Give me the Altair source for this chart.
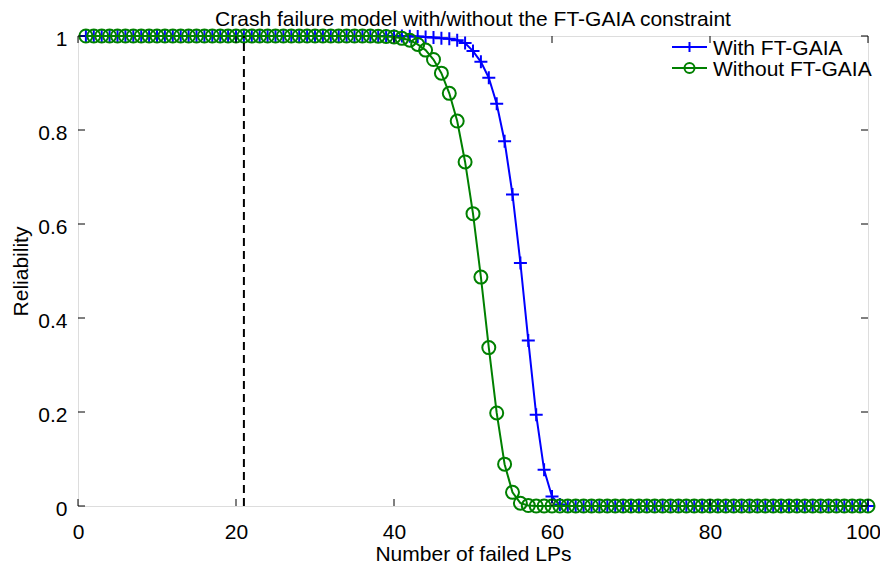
import altair as alt
import pandas as pd

# ---- data ----
failed_lps = list(range(1, 101))

with_ft_gaia = [
    1.0, 1.0, 1.0, 1.0, 1.0, 1.0, 1.0, 1.0, 1.0, 1.0,
    1.0, 1.0, 1.0, 1.0, 1.0, 1.0, 1.0, 1.0, 1.0, 1.0,
    1.0, 1.0, 1.0, 1.0, 1.0, 1.0, 1.0, 1.0, 1.0, 1.0,
    1.0, 1.0, 1.0, 1.0, 1.0, 1.0, 1.0, 1.0, 1.0, 1.0,
    0.9998, 0.9995, 0.999, 0.998, 0.997, 0.995, 0.994, 0.991, 0.985, 0.968,
    0.945, 0.911, 0.856, 0.776, 0.663, 0.517, 0.352, 0.194, 0.077, 0.020,
    0.003, 0.0, 0.0, 0.0, 0.0, 0.0, 0.0, 0.0, 0.0, 0.0,
    0.0, 0.0, 0.0, 0.0, 0.0, 0.0, 0.0, 0.0, 0.0, 0.0,
    0.0, 0.0, 0.0, 0.0, 0.0, 0.0, 0.0, 0.0, 0.0, 0.0,
    0.0, 0.0, 0.0, 0.0, 0.0, 0.0, 0.0, 0.0, 0.0, 0.0,
]

without_ft_gaia = [
    1.0, 1.0, 1.0, 1.0, 1.0, 1.0, 1.0, 1.0, 1.0, 1.0,
    1.0, 1.0, 1.0, 1.0, 1.0, 1.0, 1.0, 1.0, 1.0, 1.0,
    1.0, 1.0, 1.0, 1.0, 1.0, 1.0, 1.0, 1.0, 1.0, 1.0,
    1.0, 1.0, 1.0, 1.0, 1.0, 1.0, 1.0, 0.9995, 0.999, 0.998,
    0.995, 0.991, 0.982, 0.970, 0.950, 0.921, 0.878, 0.819, 0.732, 0.622,
    0.487, 0.337, 0.198, 0.089, 0.029, 0.006, 0.001, 0.0, 0.0, 0.0,
    0.0, 0.0, 0.0, 0.0, 0.0, 0.0, 0.0, 0.0, 0.0, 0.0,
    0.0, 0.0, 0.0, 0.0, 0.0, 0.0, 0.0, 0.0, 0.0, 0.0,
    0.0, 0.0, 0.0, 0.0, 0.0, 0.0, 0.0, 0.0, 0.0, 0.0,
    0.0, 0.0, 0.0, 0.0, 0.0, 0.0, 0.0, 0.0, 0.0, 0.0,
]

threshold_x = [21]
x_ticks = [0, 20, 40, 60, 80, 100]
y_ticks = [0, 0.2, 0.4, 0.6, 0.8, 1]
series_names = ["With FT-GAIA", "Without FT-GAIA"]
series_colors = ["#0000ff", "#008000"]

TITLE = "Crash failure model with/without the FT-GAIA constraint"
FONT = "Liberation Sans"
W, H = 790, 470
PLUS = "M-1,0L1,0M0,-1L0,1"

df_with = pd.DataFrame({"x": failed_lps, "y": with_ft_gaia})
df_without = pd.DataFrame({"x": failed_lps, "y": without_ft_gaia})

xs = alt.Scale(domain=[0, 100], nice=False, zero=False)
ys = alt.Scale(domain=[0, 1], nice=False, zero=False)

x_axis = alt.Axis(values=x_ticks, tickSize=0, labelPadding=15, labelFontSize=21,
                  labelFont=FONT, labelColor="black",
                  labelOffset=alt.expr("datum.value == 100 ? -5 : 0"),
                  title="Number of failed LPs",
                  titleFont=FONT, titleFontSize=21, titleFontWeight="normal",
                  titleColor="black", titleY=54, titleBaseline="alphabetic",
                  grid=False, domain=False, labelOverlap=False, labelFlush=False)
y_axis = alt.Axis(values=y_ticks, format="~g", tickSize=0, labelPadding=11,
                  labelFontSize=21, labelFont=FONT, labelColor="black",
                  labelOffset=3, title="Reliability", titleFont=FONT,
                  titleFontSize=21, titleFontWeight="normal", titleColor="black",
                  titleX=-51, titleY=H / 2, titleAlign="center",
                  titleBaseline="alphabetic", grid=False, domain=False,
                  labelOverlap=False, labelFlush=False)

line_with = alt.Chart(df_with).mark_line(color=series_colors[0], strokeWidth=2).encode(
    x=alt.X("x:Q", scale=xs, axis=x_axis),
    y=alt.Y("y:Q", scale=ys, axis=y_axis),
)
pts_with = alt.Chart(df_with).mark_point(shape=PLUS, size=169, color=series_colors[0],
                                         strokeWidth=2, filled=False, opacity=1).encode(
    x="x:Q", y="y:Q")
line_without = alt.Chart(df_without).mark_line(color=series_colors[1], strokeWidth=2).encode(
    x="x:Q", y="y:Q")
pts_without = alt.Chart(df_without).mark_point(shape="circle", size=169, color=series_colors[1],
                                               strokeWidth=2, filled=False, opacity=1).encode(
    x="x:Q", y="y:Q")

vline = alt.Chart(pd.DataFrame({"x": threshold_x})).mark_rule(
    color="black", strokeWidth=2, strokeDash=[8, 5]).encode(
    x="x:Q", y=alt.datum(0), y2=alt.datum(1))

xt = pd.DataFrame({"v": x_ticks})
yt = pd.DataFrame({"v": y_ticks})
tick_style = dict(color="black", strokeWidth=1)
xtick_b = alt.Chart(xt).mark_rule(**tick_style).encode(x="v:Q", y=alt.value(H), y2=alt.value(H - 7))
xtick_t = alt.Chart(xt).mark_rule(**tick_style).encode(x="v:Q", y=alt.value(0), y2=alt.value(7))
ytick_l = alt.Chart(yt).mark_rule(**tick_style).encode(y="v:Q", x=alt.value(0), x2=alt.value(7))
ytick_r = alt.Chart(yt).mark_rule(**tick_style).encode(y="v:Q", x=alt.value(W), x2=alt.value(W - 7))

# chart title as a text mark above the plot area
title_mark = alt.Chart(pd.DataFrame({"t": [TITLE]})).mark_text(
    align="center", baseline="alphabetic", font=FONT, fontSize=21, color="black").encode(
    text="t:N", x=alt.value(W / 2), y=alt.value(-10))

# legend (inside top-right)
leg_layers = []
leg_rows = [11, 32]
shapes = [PLUS, "circle"]
for name, col, shp, yy in zip(series_names, series_colors, shapes, leg_rows):
    one = pd.DataFrame({"t": [name]})
    leg_layers.append(alt.Chart(one).mark_rule(color=col, strokeWidth=2).encode(
        x=alt.value(594), x2=alt.value(629), y=alt.value(yy)))
    leg_layers.append(alt.Chart(one).mark_point(shape=shp, size=100, color=col, strokeWidth=2,
                                                filled=False, opacity=1).encode(
        x=alt.value(611.5), y=alt.value(yy)))
    leg_layers.append(alt.Chart(one).mark_text(align="left", baseline="middle", font=FONT,
                                               fontSize=21, color="black").encode(
        text="t:N", x=alt.value(635), y=alt.value(yy + 2)))

chart = alt.layer(
    line_with, pts_with, line_without, pts_without, vline,
    xtick_b, xtick_t, ytick_l, ytick_r, title_mark, *leg_layers
).properties(
    width=W, height=H,
    autosize=alt.AutoSizeParams(type="none"),
    padding={"left": 70, "top": 28, "right": 12, "bottom": 57},
).configure_view(stroke="black", strokeWidth=1).configure(background="white")

chart.save("out.html", embed_options={"renderer": "svg", "actions": False})
